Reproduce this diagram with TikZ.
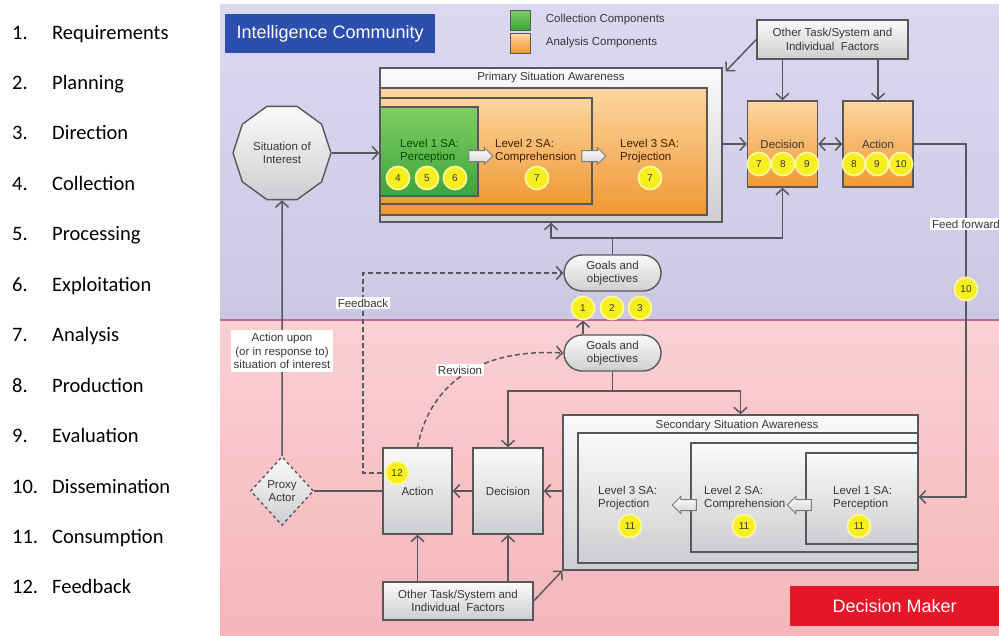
\documentclass[tikz,border=0pt]{standalone}
\usepackage{fontspec}
\setmainfont{Liberation Sans}
\newfontfamily\listfont{Carlito}
\usepackage{xcolor}
\usetikzlibrary{arrows.meta, positioning, shapes.geometric, shapes.misc, shapes.arrows}

\definecolor{ictop}{RGB}{219,217,240}
\definecolor{icbot}{RGB}{203,200,228}
\definecolor{dmtop}{RGB}{250,208,211}
\definecolor{dmbot}{RGB}{244,182,187}
\definecolor{divline}{RGB}{196,104,156}
\definecolor{icblue}{RGB}{44,78,172}
\definecolor{dmred}{RGB}{228,22,40}
\definecolor{edge}{RGB}{88,88,92}
\definecolor{greytop}{RGB}{250,250,250}
\definecolor{greybot}{RGB}{206,206,210}
\definecolor{orangetop}{RGB}{252,214,160}
\definecolor{orangebot}{RGB}{240,152,52}
\definecolor{greentop}{RGB}{128,206,100}
\definecolor{greenbot}{RGB}{62,164,58}
\definecolor{numfill}{RGB}{247,238,30}
\definecolor{textgrey}{RGB}{55,55,55}

\tikzset{
  lbl/.style={font=\fontsize{11.5}{13.5}\selectfont, text=textgrey},
  box/.style={lbl, draw=edge, line width=1.4pt, top color=greytop, bottom color=greybot, align=center, inner sep=0pt},
  obox/.style={lbl, draw=edge, line width=1.4pt, top color=orangetop, bottom color=orangebot, inner sep=0pt},
  panel/.style={draw=edge, line width=1.4pt, top color=greytop, bottom color=greybot},
  opanel/.style={draw=edge, line width=1.4pt, top color=orangetop, bottom color=orangebot},
  gpanel/.style={draw=edge, line width=1.4pt, top color=greentop, bottom color=greenbot},
  num/.style={circle, fill=numfill, draw=numfill!45!white, line width=1.8pt, minimum size=23pt, inner sep=0pt, font=\fontsize{10}{10}\selectfont, text=textgrey},
  link/.style={draw=edge, line width=1.5pt},
  arr/.style={link, -{Straight Barb[length=6pt,width=13pt]}},
  dblarr/.style={link, {Straight Barb[length=6pt,width=13pt]}-{Straight Barb[length=6pt,width=13pt]}},
  dasharr/.style={arr, dash pattern=on 5pt off 3pt},
  tag/.style={lbl, fill=white, inner sep=2pt, align=center},
  goals/.style={lbl, rounded rectangle, draw=edge, line width=1.4pt, top color=greytop, bottom color=greybot, minimum width=99pt, minimum height=36pt, align=center, inner sep=1pt},
  blockarr/.style={single arrow, draw=edge!80, line width=1pt, top color=white, bottom color=gray!35, minimum height=24pt, inner sep=5pt, single arrow head extend=3pt},
  listitem/.style={font=\listfont\fontsize{20.5}{20.5}\selectfont, text=black, anchor=base west, inner sep=0pt},
  banner/.style={font=\fontsize{18}{18}\selectfont, text=white, anchor=north west, inner sep=0pt},
  sa/.style={lbl, align=left, anchor=west, inner sep=0pt},
}

\begin{document}
\begin{tikzpicture}[x=1pt, y=-1pt]
    \useasboundingbox (0,0) rectangle (999,635);
    \clip (0,0) rectangle (999,635);

    % backgrounds
    \fill[white] (0,0) rectangle (999,635);
    \fill[top color=ictop, bottom color=icbot] (220,4) rectangle (999,320);
    \fill[top color=dmtop, bottom color=dmbot] (220,320) rectangle (999,635);
    \draw[divline, line width=1.5pt] (220,320) -- (999,320);

    % list of steps
    \foreach \idx/\word [count=\i from 0] in {1./Requirements, 2./Planning, 3./Direction,
        4./Collection, 5./Processing, 6./Exploitation, 7./Analysis, 8./Production,
        9./Evaluation, 10./Dissemination, 11./Consumption, 12./Feedback} {
        \node[listitem] (li\i) at (12, {39+50.45*\i}) {\idx};
        \node[listitem] (lw\i) at (52, {39+50.45*\i}) {\word};
    }

    % banners and legend
    \node[banner, fill=icblue, minimum width=210pt, minimum height=39pt] (ic) at (225,14) {Intelligence Community};
    \node[banner, fill=dmred, minimum width=209pt, minimum height=40pt] (dm) at (790,586) {Decision Maker};
    \node[gpanel, line width=0.6pt, minimum size=20pt, inner sep=0pt] (legc) at (520,20) {};
    \node[opanel, line width=0.6pt, minimum size=20pt, inner sep=0pt] (lega) at (520,43) {};
    \node[lbl, anchor=west, right=12pt of legc] (legct) {Collection Components};
    \node[lbl, anchor=west, right=12pt of lega] (legat) {Analysis Components};

    % primary situation awareness
    \node[box, minimum width=342pt, minimum height=154pt] (psa) at (551,145) {};
    \node[lbl] (psat) at (551,78) {Primary Situation Awareness};
    \draw[opanel] (380,88) rectangle (707,215);
    \draw[opanel] (380,98) rectangle (592,204);
    \draw[gpanel] (380,107) rectangle (478,196);
    \node[sa, text=green!30!black] (p1) at (400,151) {Level 1 SA:\\Perception};
    \node[sa, text=black!75!orange] (p2) at (495,151) {Level 2 SA:\\Comprehension};
    \node[sa, text=black!75!orange] (p3) at (620,151) {Level 3 SA:\\Projection};
    \node[blockarr] (pba1) at (478,156) {};
    \node[blockarr] (pba2) at (591,156) {};
    \foreach \v/\x in {4/398, 5/427, 6/455}
        \node[num] (pn\v) at (\x,178) {\v};
    \node[num] (pn7a) at (537,178) {7};
    \node[num] (pn7b) at (650,178) {7};

    % situation, decision, action (top)
    \node[box, regular polygon, regular polygon sides=10, minimum size=98pt] (sit) at (282,153) {Situation of\\Interest};
    \node[obox, minimum width=70pt, minimum height=86pt] (dec1) at (782.5,144) {Decision};
    \node[obox, minimum width=70pt, minimum height=86pt] (act1) at (878,144) {Action};
    \foreach \v/\x in {7/759, 8/783, 9/807}
        \node[num] (dn\v) at (\x,164) {\v};
    \foreach \v/\x in {8/854, 9/877, 10/901}
        \node[num] (an\v) at (\x,164) {\v};
    \node[box, minimum width=151pt, minimum height=39pt] (ot1) at (832.5,39.5) {Other Task/System and\\Individual\ \ Factors};

    % goals
    \node[goals] (goal1) at (612.5,273) {Goals and\\objectives};
    \node[goals] (goal2) at (612.5,353) {Goals and\\objectives};
    \foreach \v/\x in {1/583, 2/612, 3/640}
        \node[num] (gn\v) at (\x,308) {\v};

    % secondary situation awareness
    \node[box, minimum width=355pt, minimum height=155pt] (ssa) at (740.5,492.5) {};
    \node[lbl] (ssat) at (737,426) {Secondary Situation Awareness};
    \draw[panel] (578,433) rectangle (918,563);
    \draw[panel] (691,443) rectangle (918,552);
    \draw[panel] (806,453) rectangle (918,544);
    \node[sa] (s3) at (598,498) {Level 3 SA:\\Projection};
    \node[sa] (s2) at (704,498) {Level 2 SA:\\Comprehension};
    \node[sa] (s1) at (833,498) {Level 1 SA:\\Perception};
    \node[blockarr, shape border rotate=180] (sba1) at (687,505) {};
    \node[blockarr, shape border rotate=180] (sba2) at (802,505) {};
    \foreach \name/\x in {sn3/630, sn2/744, sn1/859}
        \node[num] (\name) at (\x,526) {11};

    % decision, action, proxy (bottom)
    \node[box, minimum width=70pt, minimum height=86pt] (dec2) at (508,491) {Decision};
    \node[box, minimum width=69pt, minimum height=86pt] (act2) at (417.5,491) {Action};
    \node[num] (fbn) at (397,473) {12};
    \node[box, diamond, dashed, minimum width=63pt, minimum height=69pt] (proxy) at (282,491) {Proxy\\Actor};
    \node[box, minimum width=150pt, minimum height=38pt] (ot2) at (458,601) {Other Task/System and\\Individual\ \ Factors};

    % connectors, top
    \draw[arr] (sit.east) -- (sit.east -| psa.west);
    \draw[arr] (psa.east |- dec1) -- (dec1.west);
    \draw[dblarr] (dec1.east) -- (act1.west);
    \draw[arr] (ot1.south -| dec1) -- (dec1.north);
    \draw[arr] (ot1.south -| act1) -- (act1.north);
    \draw[arr] (ot1.west) -- ([xshift=3pt,yshift=-4pt]psa.north east);
    \coordinate (gsplit) at (612.5,238);
    \draw[link] (goal1.north) -- (gsplit);
    \draw[arr] (gsplit) -| (psa.south);
    \draw[arr] (gsplit) -| (dec1.south);
    \draw[arr] (goal2.north -| gn1) -- (gn1.south);
    \coordinate (ffturn) at (966,497);
    \draw[arr] (act1.east) -| (ffturn) -- (ffturn -| ssa.east);
    \node[num] (ffn) at (966,289) {10};

    % connectors, bottom
    \coordinate (gdown) at (612.5,391);
    \draw[link] (goal2.south) -- (gdown);
    \draw[arr] (gdown) -| (dec2.north);
    \draw[arr] (gdown) -| (ssa.north);
    \draw[arr] (ssa.west |- dec2) -- (dec2.east);
    \draw[arr] (dec2.west) -- (act2.east);
    \draw[link] (act2.west) -- (proxy.east);
    \draw[arr] (proxy.north) -- (sit.south);
    \draw[arr] (ot2.north -| act2) -- (act2.south);
    \draw[arr] (ot2.north -| dec2) -- (dec2.south);
    \draw[arr] (ot2.east) -- (ssa.south west);
    \coordinate (fbturn) at (363,273);
    \draw[dasharr] (act2.west |- fbn) -| (fbturn) -- (goal1.west);
    \draw[dasharr] (act2.north) .. controls (428,392) and (470,348) .. (goal2.west);

    % labels
    \node[tag] (fftag) at (966,224) {Feed forward};
    \node[tag] (fbtag) at (363,303) {Feedback};
    \node[tag] (revtag) at (460,370) {Revision};
    \node[tag, inner sep=3pt] (acttag) at (282,351) {Action upon\\(or in response to)\\situation of interest};
\end{tikzpicture}
\end{document}
